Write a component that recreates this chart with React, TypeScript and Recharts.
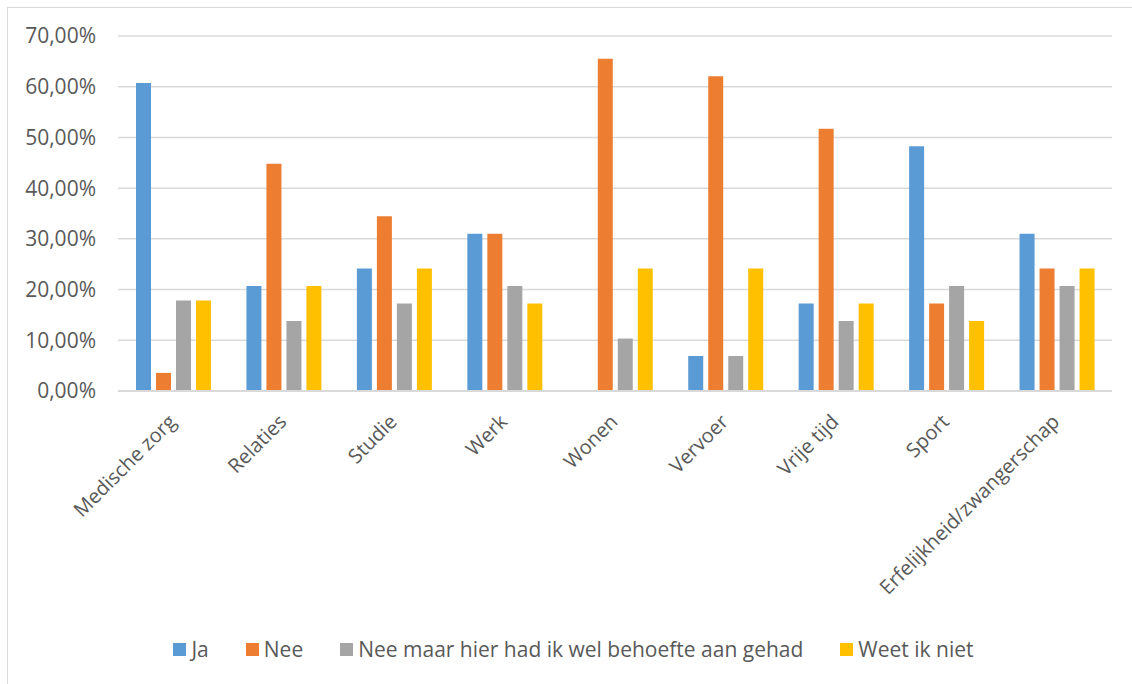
import React from "react";
import { BarChart, Bar, XAxis, YAxis, CartesianGrid, Legend } from "recharts";

const categories = [
  "Medische zorg",
  "Relaties",
  "Studie",
  "Werk",
  "Wonen",
  "Vervoer",
  "Vrije tijd",
  "Sport",
  "Erfelijkheid/zwangerschap",
];

const ja = [60.71, 20.69, 24.14, 31.03, 0, 6.9, 17.24, 48.28, 31.03];
const nee = [3.57, 44.83, 34.48, 31.03, 65.52, 62.07, 51.72, 17.24, 24.14];
const neeMaar = [17.86, 13.79, 17.24, 20.69, 10.34, 6.9, 13.79, 20.69, 20.69];
const weetNiet = [17.86, 20.69, 24.14, 17.24, 24.14, 24.14, 17.24, 13.79, 24.14];

const yTicks = [0, 10, 20, 30, 40, 50, 60, 70];

const seriesNames = ["Ja", "Nee", "Nee maar hier had ik wel behoefte aan gehad", "Weet ik niet"];
const seriesColors = ["#5B9BD5", "#ED7D31", "#A5A5A5", "#FFC000"];

const data = categories.map((name, i) => ({
  name,
  ja: ja[i],
  nee: nee[i],
  neeMaar: neeMaar[i],
  weetNiet: weetNiet[i],
}));

const FONT = "'Open Sans', sans-serif";
const TEXT = "#595959";

const fmtPct = (v: number) => v.toFixed(2).replace(".", ",") + "%";

const CategoryTick = (props: any) => {
  const { x, y, payload } = props;
  const ax = x + 4;
  const ay = y + 24;
  return (
    <text
      x={ax}
      y={ay}
      transform={`rotate(-45, ${ax}, ${ay})`}
      textAnchor="end"
      fill={TEXT}
      fontSize={20}
      fontFamily={FONT}
    >
      {payload.value}
    </text>
  );
};

const LegendContent = () => (
  <div
    style={{
      display: "flex",
      justifyContent: "center",
      alignItems: "center",
      fontFamily: FONT,
      fontSize: 21,
      color: TEXT,
    }}
  >
    {seriesNames.map((n, i) => (
      <div key={n} style={{ display: "flex", alignItems: "center", marginRight: i < 3 ? 37 : 0 }}>
        <span
          style={{ display: "inline-block", width: 13, height: 13, background: seriesColors[i], marginRight: 5 }}
        />
        <span style={{ lineHeight: "24px" }}>{n}</span>
      </div>
    ))}
  </div>
);

export default function App() {
  return (
    <div style={{ position: "absolute", left: 0, top: 0, width: 1132, height: 684, background: "#fff" }}>
      <div
        style={{
          position: "absolute",
          left: 7,
          top: 7,
          width: 1125,
          height: 677,
          borderTop: "1.5px solid #d9d9d9",
          borderLeft: "1.5px solid #d9d9d9",
        }}
      />
      <BarChart
        width={1132}
        height={684}
        data={data}
        margin={{ top: 36, right: 20, bottom: 0, left: 0 }}
        barSize={15}
        barGap={5}
      >
        <CartesianGrid vertical={false} stroke="#d9d9d9" strokeWidth={1.5} />
        <XAxis
          dataKey="name"
          interval={0}
          height={269}
          tickLine={false}
          axisLine={{ stroke: "#d9d9d9", strokeWidth: 2 }}
          tick={<CategoryTick />}
        />
        <YAxis
          width={118}
          domain={[0, 70]}
          ticks={yTicks}
          tickFormatter={fmtPct}
          axisLine={false}
          tickLine={false}
          tickSize={0}
          tickMargin={22}
          tick={{ fill: TEXT, fontSize: 21, fontFamily: FONT }}
        />
        <Legend
          content={<LegendContent />}
          wrapperStyle={{ left: 15, width: 1117, top: 637, bottom: "auto" }}
        />
        <Bar dataKey="ja" name={seriesNames[0]} fill={seriesColors[0]} isAnimationActive={false} />
        <Bar dataKey="nee" name={seriesNames[1]} fill={seriesColors[1]} isAnimationActive={false} />
        <Bar dataKey="neeMaar" name={seriesNames[2]} fill={seriesColors[2]} isAnimationActive={false} />
        <Bar dataKey="weetNiet" name={seriesNames[3]} fill={seriesColors[3]} isAnimationActive={false} />
      </BarChart>
    </div>
  );
}
